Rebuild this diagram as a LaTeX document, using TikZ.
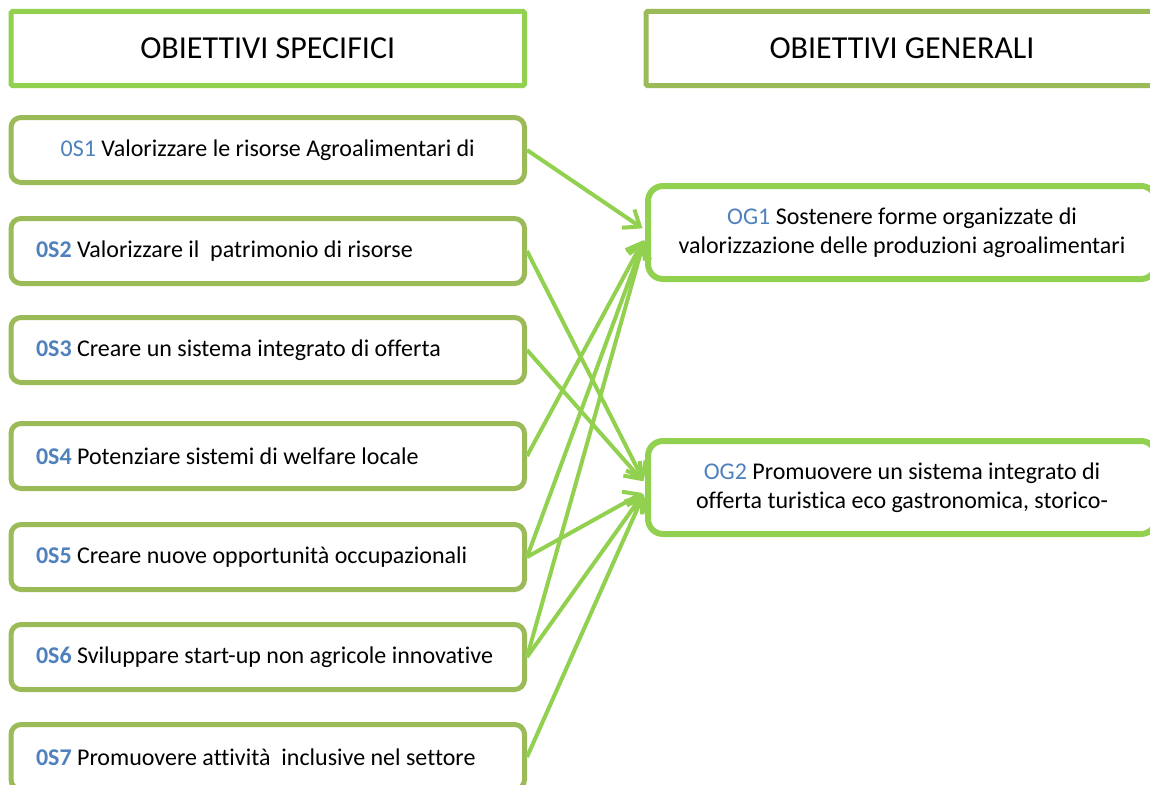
\documentclass[tikz,border=0pt]{standalone}
\usepackage{fontspec}
\setmainfont[Ligatures=NoCommon]{Carlito}
\usetikzlibrary{arrows.meta}
\definecolor{verde}{RGB}{146,208,80}
\definecolor{oliva}{RGB}{155,187,89}
\definecolor{blu}{RGB}{79,129,189}
\tikzset{
  titolo/.style={draw=#1, line width=5pt, rounded corners=1.5pt, minimum height=74pt, inner sep=0pt, font=\fontsize{32}{38}\selectfont},
  os/.style={draw=oliva, line width=5pt, rounded corners=10pt, minimum width=513.5pt, minimum height=65pt, inner xsep=25pt, inner ysep=0pt, font=\fontsize{24}{29.3}\selectfont},
  og/.style={draw=verde, line width=6pt, rounded corners=15pt, minimum width=508pt, minimum height=93pt, align=center, font=\fontsize{24}{29.3}\selectfont},
  freccia/.style={draw=verde, line width=4pt, shorten >=3pt, -{Straight Barb[length=14pt,width=22pt]}}
}
\begin{document}
\begin{tikzpicture}[x=1pt,y=-1pt]
\useasboundingbox (0,0) rectangle (1150,784);
\clip (0,0) rectangle (1150,784);
% titoli delle due colonne
\node[titolo=verde, minimum width=513.5pt] (tos) at (267.75,48.5) {OBIETTIVI SPECIFICI};
\node[titolo=oliva, minimum width=512pt] (tog) at (902,48.5) {OBIETTIVI GENERALI};
% obiettivi specifici
\node[os] (os1) at (267.75,150) {\makebox[463.5pt][c]{\textcolor{blu}{0S1} Valorizzare le risorse Agroalimentari di}};
\foreach \n/\y/\testo in {2/251/Valorizzare il\ \ patrimonio di risorse,
    3/350/Creare un sistema integrato di offerta,
    4/456/Potenziare sistemi di welfare locale,
    5/557/Creare nuove opportunità occupazionali,
    6/657/Sviluppare start-up non agricole innovative,
    7/757/Promuovere attività\ \ inclusive nel settore}{
  \node[os] (os\n) at (267.75,\y) {\makebox[463.5pt][l]{\textcolor{blu}{\textbf{0S\n}} \testo}};}
% obiettivi generali
\node[og] (og1) at (902,232.5) {\textcolor{blu}{OG1} Sostenere forme organizzate di\\valorizzazione delle produzioni agroalimentari};
\node[og] (og2) at (902,487.5) {\textcolor{blu}{OG2} Promuovere un sistema integrato di\\offerta turistica eco gastronomica, storico-};
% collegamenti
\draw[freccia] (os1.east) -- ([yshift=2.5pt]og1.west);
\foreach \s in {4,5,6}
  \draw[freccia] (os\s.east) -- ([yshift=-5pt]og1.west);
\foreach \s in {2,3}
  \draw[freccia] (os\s.east) -- ([yshift=4pt]og2.west);
\foreach \s in {5,6,7}
  \draw[freccia] (os\s.east) -- ([yshift=-4pt]og2.west);
\end{tikzpicture}
\end{document}
